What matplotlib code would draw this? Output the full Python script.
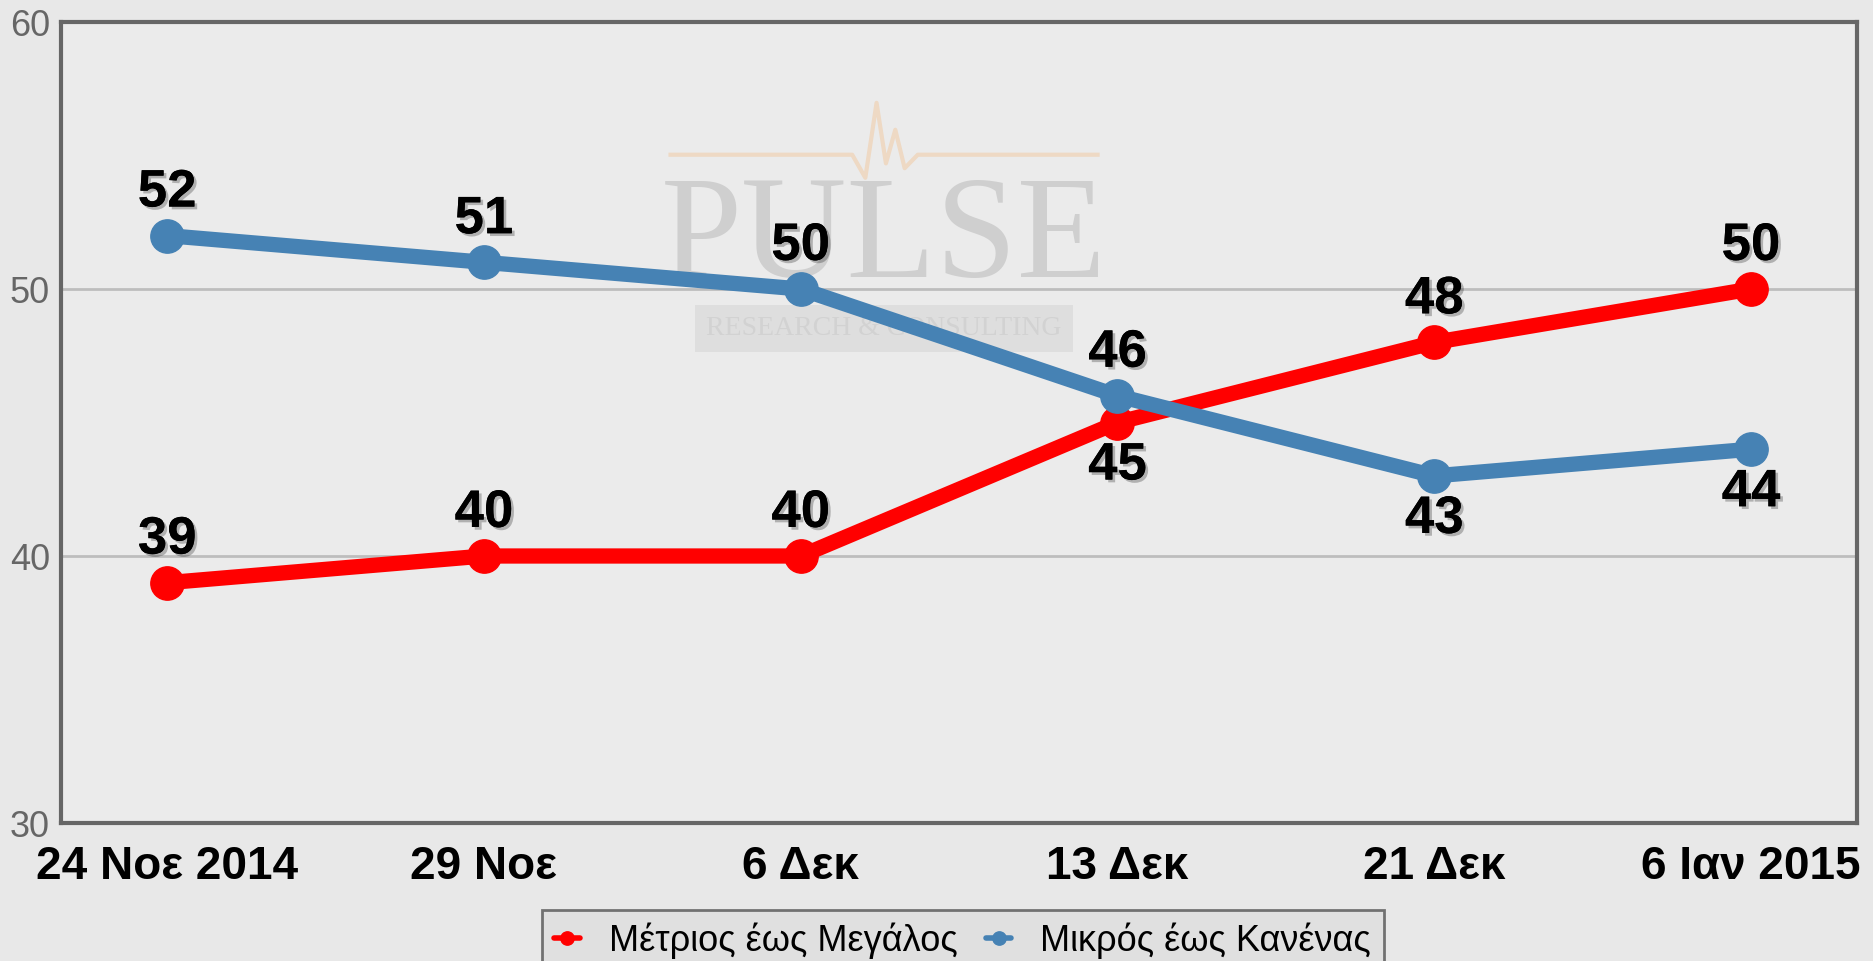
import matplotlib
matplotlib.use("Agg")
import matplotlib.pyplot as plt
import matplotlib.patheffects as pe

plt.rcParams['font.family'] = ['Liberation Sans', 'DejaVu Sans']

dates = ['24 Νοε 2014', '29 Νοε', '6 Δεκ', '13 Δεκ', '21 Δεκ', '6 Ιαν 2015']
moderate_to_large = [39, 40, 40, 45, 48, 50]   # Μέτριος έως Μεγάλος
small_to_none = [52, 51, 50, 46, 43, 44]       # Μικρός έως Κανένας
# label placement: +1 above the point, -1 below
red_side = [1, 1, 1, -1, 1, 1]
blue_side = [1, 1, 1, 1, -1, -1]

red = '#ff0000'
blue = '#4682b4'
bg = '#e8e8e8'

fig = plt.figure(figsize=(18.73, 9.61), dpi=100, facecolor=bg)
ax = fig.add_axes([0.0326, 0.1436, 0.9589, 0.8335])
ax.set_facecolor('#ebebeb')

# watermark (logo), drawn inside the axes but in figure coords, behind the lines
tf = fig.transFigure
ax.text(0.472, 0.748, 'PULSE', family='Liberation Serif', fontsize=105,
        color='#cfcfcf', ha='center', va='center', transform=tf, zorder=0.5)
ax.text(0.472, 0.658, 'RESEARCH & CONSULTING', family='Liberation Serif',
        fontsize=20, color='#d2d2d2', ha='center', va='center', transform=tf,
        zorder=0.5, bbox=dict(boxstyle='square,pad=0.4', fc='#dedede', ec='none'))
wx = [0.358, 0.455, 0.462, 0.468, 0.473, 0.478, 0.483, 0.490, 0.586]
wy = [0.839, 0.839, 0.815, 0.893, 0.830, 0.865, 0.825, 0.839, 0.839]
ax.plot(wx, wy, color='#eed9c4', lw=3, transform=tf, zorder=0.5, clip_on=False)

x = range(len(dates))
ax.plot(x, moderate_to_large, color=red, lw=11, marker='o', ms=24,
        solid_capstyle='round', zorder=3, label='Μέτριος έως Μεγάλος')
ax.plot(x, small_to_none, color=blue, lw=11, marker='o', ms=24,
        solid_capstyle='round', zorder=3, label='Μικρός έως Κανένας')

shadow = [pe.withSimplePatchShadow(offset=(2, -2), alpha=0.25), pe.Normal()]
for vals, sides in ((moderate_to_large, red_side), (small_to_none, blue_side)):
    for i, (v, s) in enumerate(zip(vals, sides)):
        ax.annotate(str(v), (i, v), xytext=(0, 31 * s), textcoords='offset points',
                    ha='center', va='center', fontsize=38, fontweight='bold',
                    color='black', zorder=5, path_effects=shadow)

ax.set_xlim(-0.335, 5.335)
ax.set_ylim(30, 60)
ax.set_yticks([30, 40, 50, 60])
ax.set_xticks(list(x))
ax.set_xticklabels(dates, fontsize=33, fontweight='bold')
ax.tick_params(axis='x', length=0, pad=16)
ax.tick_params(axis='y', length=0, pad=8, labelsize=26, labelcolor='#666666')
ax.yaxis.grid(True, color='#bdbdbd', lw=2)
ax.set_axisbelow(True)
for sp in ax.spines.values():
    sp.set_color('#666666')
    sp.set_linewidth(3)

leg = fig.legend(loc='lower center', bbox_to_anchor=(0.514, -0.03), ncol=2,
                 fontsize=26, markerscale=0.4, handlelength=0.7, handletextpad=0.8,
                 columnspacing=0.8, frameon=True, fancybox=False, borderpad=0.35)
leg.get_frame().set_facecolor('#dedede')
leg.get_frame().set_edgecolor('#555555')
leg.get_frame().set_linewidth(2)
for h in leg.legend_handles:
    h.set_linewidth(4)

fig.savefig('out.png', dpi=100, facecolor=bg)
